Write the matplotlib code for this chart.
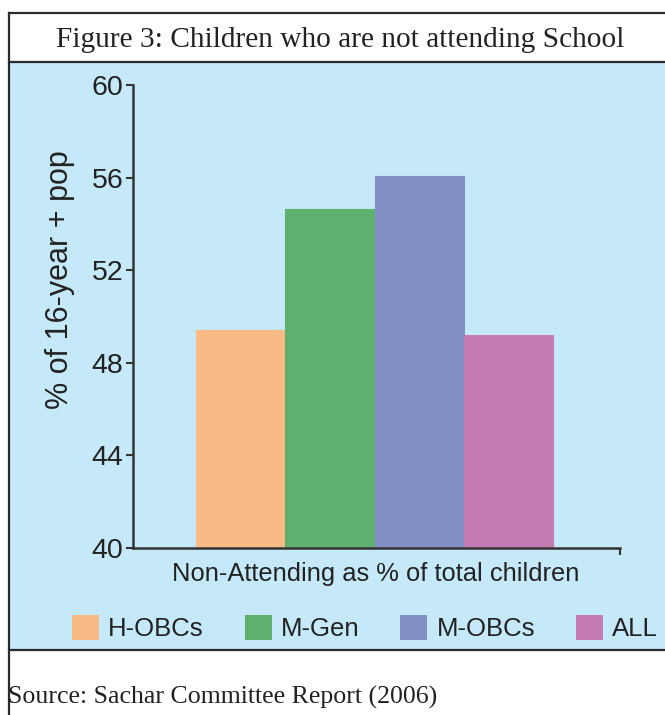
import matplotlib.pyplot as plt
from matplotlib.patches import Rectangle, Patch
from matplotlib.lines import Line2D

# values (% of 16-year + pop)
groups = ['H-OBCs', 'M-Gen', 'M-OBCs', 'ALL']
values = [49.4, 54.65, 56.05, 49.2]
colors = ['#f9bb85', '#5fb06e', '#8290c6', '#c57cb2']
yticks = [40, 44, 48, 52, 56, 60]

W, H = 665, 715
fig = plt.figure(figsize=(W / 100, H / 100), dpi=100)
fig.patch.set_facecolor('white')


def fx(px):
    return px / W


def fy(py):
    return 1 - py / H


# light blue panel and frame lines
fig.patches.append(Rectangle((fx(9), fy(650)), fx(665 - 9), fy(63) - fy(650),
                             transform=fig.transFigure, facecolor='#c6e9f9',
                             edgecolor='none', zorder=-5))
frame = '#2b2b2b'
for (x0, y0, x1, y1) in [(9, 13, 665, 13), (9, 62, 665, 62), (9, 650, 665, 650), (9, 13, 9, 715)]:
    fig.lines.append(Line2D([fx(x0), fx(x1)], [fy(y0), fy(y1)], transform=fig.transFigure,
                            color=frame, lw=1.6, zorder=-4))

fig.text(fx(340), fy(40), 'Figure 3: Children who are not attending School',
         family='Liberation Serif', fontsize=21.2, color='#222222', ha='center', va='center')
fig.text(fx(8), fy(697), 'Source: Sachar Committee Report (2006)',
         family='Liberation Serif', fontsize=18.6, color='#222222', ha='left', va='center')

ax = fig.add_axes([fx(133), fy(548), fx(620 - 133), fy(85) - fy(548)])
ax.set_zorder(2)
ax.set_facecolor('none')
x = range(len(groups))
ax.bar(x, values, width=1.0, color=colors, edgecolor=colors, linewidth=0.8)
ax.set_ylim(40, 60)
ax.set_xlim(-1.206, 4.25)
ax.set_yticks(yticks)
ax.set_yticklabels([str(t) for t in yticks], family='Liberation Sans', fontsize=20.5,
                   color='#222222')
ax.set_xticks([4.25])
ax.set_xticklabels([''])
ax.tick_params(axis='both', direction='out', length=5, width=1.5, color='#333333', pad=2)
for s in ['top', 'right']:
    ax.spines[s].set_visible(False)
for s in ['left', 'bottom']:
    ax.spines[s].set_color('#333333')
    ax.spines[s].set_linewidth(1.8)

fig.text(fx(60), fy(280), '% of 16-year + pop', rotation=90, family='Liberation Sans',
         fontsize=22, color='#222222', ha='center', va='center')
fig.text(fx(376), fy(574), 'Non-Attending as % of total children', family='Liberation Sans',
         fontsize=18.4, color='#222222', ha='center', va='center')

handles = [Patch(facecolor=c, edgecolor='none') for c in colors]
leg = fig.legend(handles, groups, loc='center', bbox_to_anchor=(fx(365), fy(628)), ncol=4,
                 frameon=False, prop={'family': 'Liberation Sans', 'size': 18.5},
                 handlelength=1.05, handleheight=1.1, handletextpad=0.35,
                 columnspacing=1.6, borderaxespad=0)
for t in leg.get_texts():
    t.set_color('#222222')

fig.savefig('out.png', dpi=100)
